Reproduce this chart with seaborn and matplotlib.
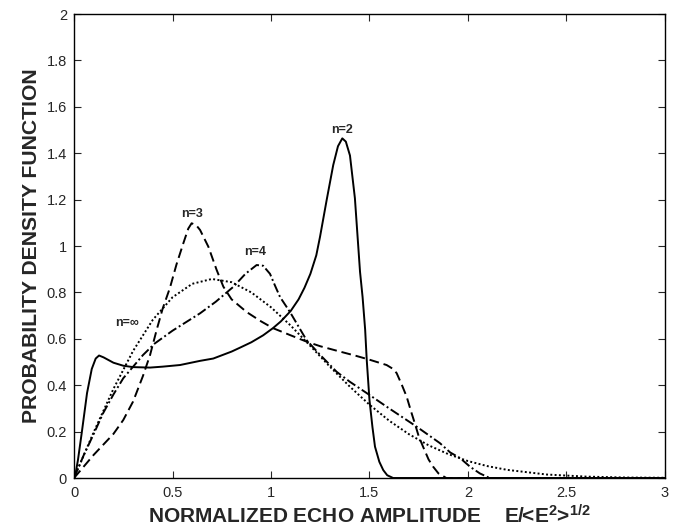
import pandas as pd
import matplotlib
matplotlib.use("Agg")
import matplotlib.pyplot as plt
import seaborn as sns

# values
n2_x = [0, 0.01, 0.02, 0.04, 0.066, 0.09, 0.11, 0.127, 0.15, 0.2, 0.25, 0.3, 0.386, 0.45,
        0.538, 0.64, 0.707, 0.8, 0.843, 0.9, 0.96, 1.01, 1.05, 1.1, 1.14, 1.17, 1.2, 1.23,
        1.249, 1.283, 1.316, 1.34, 1.362, 1.38, 1.401, 1.426, 1.452, 1.465, 1.478, 1.486,
        1.5, 1.515, 1.528, 1.55, 1.57, 1.59, 1.62, 3.0]
n2_y = [0, 0.03, 0.078, 0.2, 0.366, 0.47, 0.515, 0.528, 0.52, 0.497, 0.484, 0.478, 0.476, 0.48,
        0.487, 0.505, 0.515, 0.545, 0.562, 0.585, 0.615, 0.646, 0.675, 0.72, 0.77, 0.82, 0.88,
        0.96, 1.04, 1.2, 1.349, 1.43, 1.464, 1.45, 1.39, 1.206, 0.889, 0.78, 0.64, 0.51,
        0.336, 0.22, 0.135, 0.07, 0.034, 0.012, 0, 0]

n3_x = [0, 0.05, 0.1, 0.15, 0.2, 0.25, 0.3, 0.35, 0.386, 0.42, 0.45, 0.487, 0.52, 0.555,
        0.58, 0.597, 0.62, 0.64, 0.682, 0.724, 0.758, 0.8, 0.877, 0.95, 1.01, 1.1, 1.18,
        1.25, 1.35, 1.43, 1.5, 1.587, 1.62, 1.638, 1.665, 1.689, 1.71, 1.73, 1.75, 1.772,
        1.8, 1.823, 1.85, 1.89, 3.0]
n3_y = [0, 0.05, 0.1, 0.145, 0.19, 0.25, 0.33, 0.44, 0.53, 0.64, 0.73, 0.82, 0.92, 1.012,
        1.075, 1.098, 1.09, 1.069, 0.997, 0.897, 0.825, 0.77, 0.715, 0.675, 0.646, 0.615, 0.588,
        0.568, 0.545, 0.527, 0.51, 0.487, 0.47, 0.452, 0.4, 0.35, 0.29, 0.236, 0.18, 0.135,
        0.08, 0.049, 0.02, 0, 0]

n4_x = [0, 0.05, 0.1, 0.148, 0.2, 0.25, 0.3, 0.35, 0.41, 0.5, 0.64, 0.72, 0.81, 0.87,
        0.927, 0.96, 0.995, 1.02, 1.046, 1.096, 1.18, 1.25, 1.3, 1.333, 1.4, 1.5, 1.6,
        1.74, 1.8, 1.858, 1.91, 1.96, 2.01, 2.06, 2.11, 3.0]
n4_y = [0, 0.1, 0.19, 0.28, 0.36, 0.43, 0.48, 0.53, 0.58, 0.635, 0.71, 0.76, 0.825, 0.88,
        0.918, 0.915, 0.88, 0.83, 0.78, 0.716, 0.595, 0.53, 0.487, 0.458, 0.415, 0.358, 0.3,
        0.221, 0.185, 0.15, 0.11, 0.086, 0.049, 0.02, 0, 0]

ninf_x = [0, 0.1, 0.2, 0.3, 0.4, 0.5, 0.6, 0.7, 0.8, 0.9, 1.0, 1.1, 1.2, 1.3, 1.4, 1.5,
          1.6, 1.7, 1.8, 1.9, 2.0, 2.1, 2.2, 2.4, 2.6, 2.8, 3.0]
ninf_y = [0, 0.198, 0.384, 0.548, 0.682, 0.779, 0.837, 0.858, 0.844, 0.8, 0.736, 0.657,
          0.569, 0.479, 0.394, 0.316, 0.247, 0.189, 0.141, 0.103, 0.073, 0.051, 0.035,
          0.015, 0.006, 0.002, 0.001]

labels = ["n=2", "n=3", "n=4", "n=\u221e"]
label_x = [1.36, 0.597, 0.92, 0.27]
label_y = [1.50, 1.14, 0.975, 0.67]

x_ticks = [0, 0.5, 1, 1.5, 2, 2.5, 3]
y_ticks = [0, 0.2, 0.4, 0.6, 0.8, 1, 1.2, 1.4, 1.6, 1.8, 2]

sns.set_style("ticks")
plt.rcParams['font.family'] = ['Liberation Sans', 'DejaVu Sans']
plt.rcParams['mathtext.fontset'] = 'custom'
plt.rcParams['mathtext.bf'] = 'Liberation Sans:bold'
plt.rcParams['mathtext.rm'] = 'Liberation Sans:bold'
plt.rcParams['mathtext.default'] = 'bf'

fig = plt.figure(figsize=(6.73, 5.31), dpi=100)
ax = fig.add_axes([0.11, 0.0998, 0.878, 0.8738])

curves = [
    (n2_x, n2_y, '-'),
    (n3_x, n3_y, (0, (5, 2.5))),
    (n4_x, n4_y, (0, (5, 1.5, 1, 1.5))),
    (ninf_x, ninf_y, (0, (1, 1.2))),
]
for xs, ys, ls in curves:
    df = pd.DataFrame({'x': xs, 'y': ys})
    sns.lineplot(data=df, x='x', y='y', ax=ax, color='black', linestyle=ls,
                 linewidth=1.4, estimator=None, sort=False)

for t, lx, ly in zip(labels, label_x, label_y):
    ax.text(lx, ly, t, ha='center', va='center', fontsize=9, fontweight='bold')

ax.set_xlim(0, 3)
ax.set_ylim(0, 2)
ax.set_xticks(x_ticks)
ax.set_xticklabels([f"{v:g}" for v in x_ticks])
ax.set_yticks(y_ticks)
ax.set_yticklabels([f"{v:g}" for v in y_ticks])
ax.tick_params(direction='in', length=5, width=0.8, top=True, right=True, labelsize=10.5)
ax.tick_params(axis='x', pad=6)
ax.tick_params(axis='y', pad=5)
for s in ax.spines.values():
    s.set_visible(True)
    s.set_linewidth(1.0)
    s.set_color('black')

ax.set_xlabel("NORMALIZED ECHO AMPLITUDE    E/<E$^{2}$>$^{1/2}$",
              fontsize=15, fontweight='bold', labelpad=3)
ax.set_ylabel("PROBABILITY DENSITY FUNCTION", fontsize=15.2, fontweight='bold', labelpad=4)

fig.savefig("out.png", dpi=100)
